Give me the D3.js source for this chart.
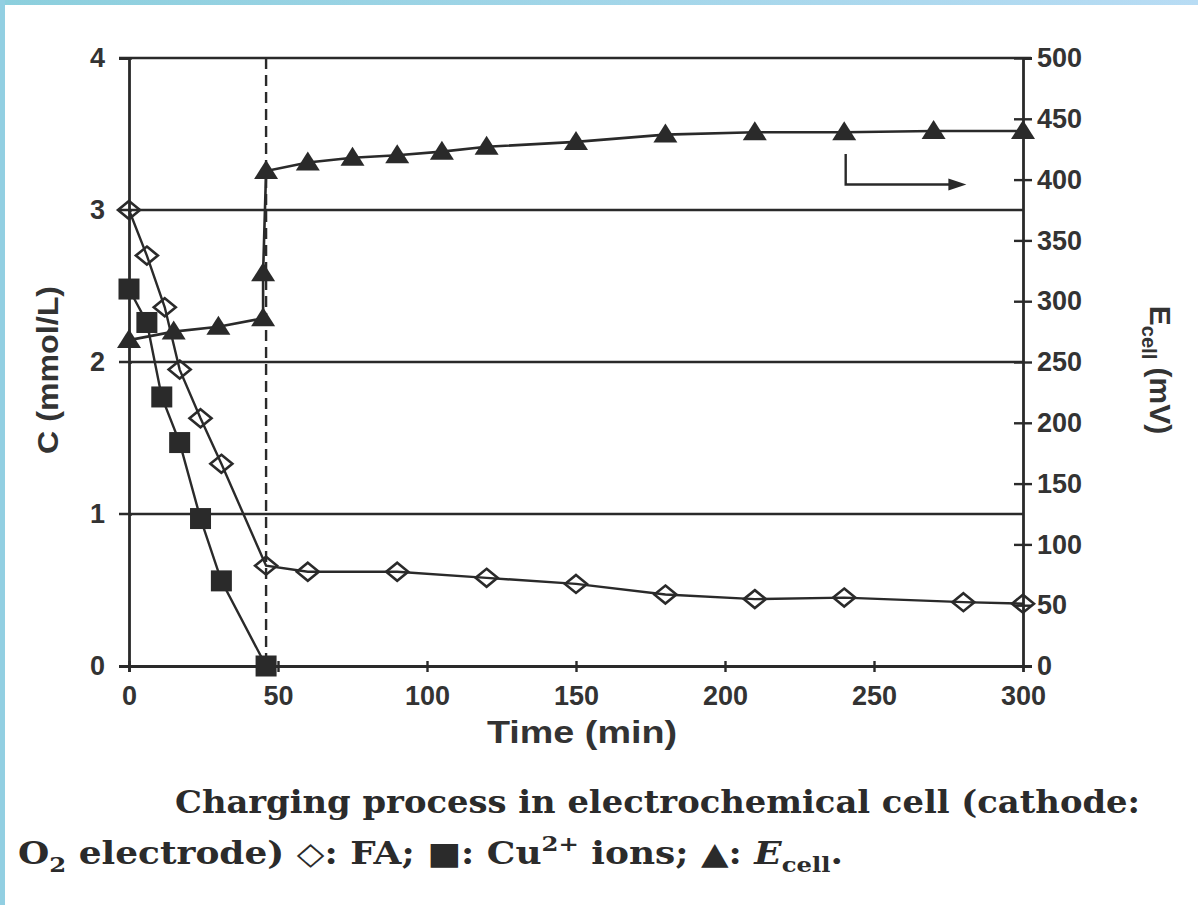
<!DOCTYPE html>
<html>
<head>
<meta charset="utf-8">
<script src="https://cdn.jsdelivr.net/npm/d3@7"></script>
<style>
  body { margin: 0; background: #fff; }
  svg { display: block; }
  text { font-family: "Liberation Sans", Arial, sans-serif; fill: #333; }
  .cap { font-family: "DejaVu Serif", serif; font-weight: bold; fill: #2b2b2b; }
</style>
</head>
<body>
<script>
// FA (open diamonds), C in mmol/L
var timeFA = [0, 6, 12, 17, 24, 31, 46, 60, 90, 120, 150, 180, 210, 240, 280, 300];
var concFA = [3.0, 2.70, 2.36, 1.95, 1.63, 1.33, 0.66, 0.62, 0.62, 0.58, 0.54, 0.47, 0.44, 0.45, 0.42, 0.41];
// Cu2+ ions (filled squares)
var timeCu = [0, 6, 11, 17, 24, 31, 46];
var concCu = [2.48, 2.26, 1.77, 1.47, 0.97, 0.56, 0.0];
// E cell (filled triangles), mV
var timeE = [0, 15, 30, 45, 45, 46, 60, 75, 90, 105, 120, 150, 180, 210, 240, 270, 300];
var volE = [268, 275, 279, 286, 323, 407, 414, 418, 420, 423, 427, 431, 437, 439, 439, 440, 440];

var xTicks = [0, 50, 100, 150, 200, 250, 300];
var cTicks = [0, 1, 2, 3, 4];
var eTicks = [0, 50, 100, 150, 200, 250, 300, 350, 400, 450, 500];
var gridC = [1, 2, 3];
var chargeEnd = 46;

var W = 1198, H = 905;
var ink = "#2a2a2a";

var svg = d3.select("body").append("svg").attr("width", W).attr("height", H);

// scanned page border
var grad = svg.append("defs").append("linearGradient").attr("id", "topg");
grad.append("stop").attr("offset", "0%").attr("stop-color", "#8ccfdd");
grad.append("stop").attr("offset", "100%").attr("stop-color", "#b8dcf4");
svg.append("rect").attr("x", 0).attr("y", 0).attr("width", W).attr("height", 5).attr("fill", "url(#topg)");
svg.append("rect").attr("x", 0).attr("y", 0).attr("width", 5).attr("height", H).attr("fill", "#92cfe2");

var x = d3.scaleLinear().domain([0, 300]).range([129, 1023]);
var yC = d3.scaleLinear().domain([0, 4]).range([666, 58]);
var yE = d3.scaleLinear().domain([0, 500]).range([666, 58]);

// horizontal grid lines at C = 1, 2, 3
svg.append("g").selectAll("line").data(gridC).enter().append("line")
  .attr("x1", x(0) - 10).attr("x2", x(300))
  .attr("y1", function (d) { return yC(d); }).attr("y2", function (d) { return yC(d); })
  .attr("stroke", ink).attr("stroke-width", 2.4);

// top border
svg.append("line").attr("x1", x(0) - 10).attr("x2", x(300) + 8)
  .attr("y1", yC(4)).attr("y2", yC(4)).attr("stroke", ink).attr("stroke-width", 2.6);

// left axis
var axL = svg.append("g").attr("transform", "translate(" + x(0) + ",0)")
  .call(d3.axisLeft(yC).tickValues(cTicks).tickSize(10).tickPadding(14).tickFormat(d3.format("d")));
// bottom axis
var axB = svg.append("g").attr("transform", "translate(0," + yC(0) + ")")
  .call(d3.axisBottom(x).tickValues(xTicks).tickSize(6).tickPadding(10));
// right axis
var axR = svg.append("g").attr("transform", "translate(" + x(300) + ",0)")
  .call(d3.axisRight(yE).tickValues(eTicks).tickSize(9).tickPadding(5));

[axL, axB, axR].forEach(function (a) {
  a.select(".domain").attr("stroke", ink).attr("stroke-width", 2.8);
  a.selectAll(".tick line").attr("stroke", ink).attr("stroke-width", 2.4);
  a.selectAll(".tick text").style("font-family", "Liberation Sans, Arial, sans-serif")
    .style("font-weight", "bold").style("font-size", "27px").attr("fill", "#383838");
});
// ticks crossing the axis
axR.selectAll(".tick line").attr("x1", -9);
axB.selectAll(".tick line").attr("y1", -5);
axL.selectAll(".tick line").attr("x2", 3);
axB.selectAll(".tick text").attr("dy", "0.85em");
axB.selectAll(".tick").filter(function (d) { return d === 300; }).select("line").remove();

// dashed line at end of Cu2+ removal
svg.append("line").attr("x1", x(chargeEnd)).attr("x2", x(chargeEnd))
  .attr("y1", yC(4)).attr("y2", yC(0))
  .attr("stroke", ink).attr("stroke-width", 2.4).attr("stroke-dasharray", "11,6");

// series lines
var lineFA = d3.line().x(function (d, i) { return x(timeFA[i]); }).y(function (d) { return yC(d); });
var lineCu = d3.line().x(function (d, i) { return x(timeCu[i]); }).y(function (d) { return yC(d); });
var lineE = d3.line().x(function (d, i) { return x(timeE[i]); }).y(function (d) { return yE(d); });

svg.append("path").attr("d", lineE(volE)).attr("fill", "none").attr("stroke", ink).attr("stroke-width", 2.6);
svg.append("path").attr("d", lineFA(concFA)).attr("fill", "none").attr("stroke", ink).attr("stroke-width", 2.4);
svg.append("path").attr("d", lineCu(concCu)).attr("fill", "none").attr("stroke", ink).attr("stroke-width", 2.4);

// markers
svg.append("g").selectAll("path").data(volE).enter().append("path")
  .attr("transform", function (d, i) { return "translate(" + x(timeE[i]) + "," + yE(d) + ")"; })
  .attr("d", "M0,-11 L12,8 L-12,8 Z").attr("fill", ink);

svg.append("g").selectAll("rect").data(concCu).enter().append("rect")
  .attr("x", function (d, i) { return x(timeCu[i]) - 10.5; })
  .attr("y", function (d) { return yC(d) - 10.5; })
  .attr("width", 21).attr("height", 21).attr("fill", ink);

svg.append("g").selectAll("path").data(concFA).enter().append("path")
  .attr("transform", function (d, i) { return "translate(" + x(timeFA[i]) + "," + yC(d) + ")"; })
  .attr("d", "M0,-9 L11,0 L0,9 L-11,0 Z")
  .attr("fill", "none").attr("stroke", ink).attr("stroke-width", 2.6);

// arrow pointing to right axis
svg.append("path")
  .attr("d", "M" + x(240.5) + "," + yE(421) + " V" + yE(396) + " H" + x(276))
  .attr("fill", "none").attr("stroke", ink).attr("stroke-width", 2.4);
svg.append("path")
  .attr("d", "M" + x(281) + "," + yE(396) + " l-18,-6 l0,12 Z").attr("fill", ink);

// axis titles
svg.append("text").attr("transform", "translate(58,370) rotate(-90)")
  .attr("text-anchor", "middle").style("font-weight", "bold").style("font-size", "30px")
  .attr("textLength", 168).attr("lengthAdjust", "spacingAndGlyphs")
  .attr("fill", "#333").text("C (mmol/L)");

var eT = svg.append("text").attr("transform", "translate(1150,370) rotate(90)")
  .attr("text-anchor", "middle").style("font-weight", "bold").style("font-size", "30px").attr("fill", "#333");
eT.append("tspan").text("E");
eT.append("tspan").attr("dy", 8).style("font-size", "20px").text("cell");
eT.append("tspan").attr("dy", -8).text(" (mV)");

svg.append("text").attr("x", 582).attr("y", 743).attr("text-anchor", "middle")
  .attr("textLength", 190).attr("lengthAdjust", "spacingAndGlyphs")
  .style("font-weight", "bold").style("font-size", "31px").attr("fill", "#333").text("Time (min)");

// caption
svg.append("text").attr("class", "cap").attr("x", 175).attr("y", 813)
  .attr("textLength", 965).attr("lengthAdjust", "spacingAndGlyphs")
  .style("font-size", "31px").text("Charging process in electrochemical cell (cathode:");

var c2 = svg.append("text").attr("class", "cap").attr("x", 18).attr("y", 864)
  .attr("textLength", 825).attr("lengthAdjust", "spacingAndGlyphs")
  .style("font-size", "31px");
c2.append("tspan").text("O");
c2.append("tspan").attr("dy", 8).style("font-size", "21px").text("2");
c2.append("tspan").attr("dy", -8).text(" electrode) \u25C7: FA; \u25A0: Cu");
c2.append("tspan").attr("dy", -13).style("font-size", "21px").text("2+");
c2.append("tspan").attr("dy", 13).text(" ions; \u25B2: ");
c2.append("tspan").style("font-style", "italic").text("E");
c2.append("tspan").attr("dy", 8).style("font-size", "21px").text("cell");
c2.append("tspan").attr("dy", -8).text(".");
</script>
</body>
</html>
